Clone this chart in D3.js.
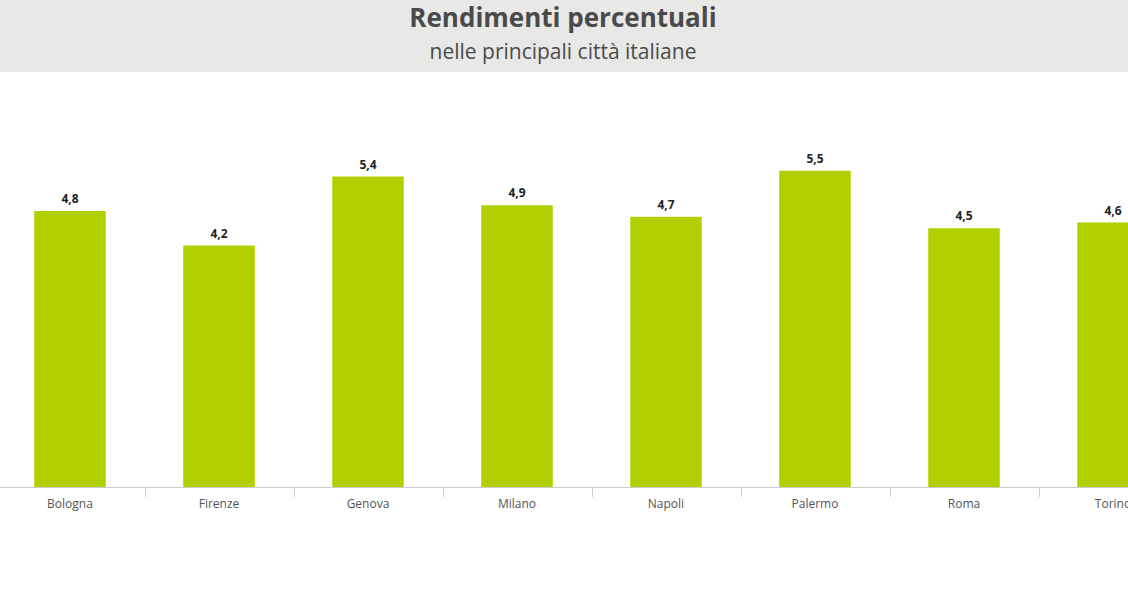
<!DOCTYPE html>
<html><head><meta charset="utf-8">
<script src="https://cdn.jsdelivr.net/npm/d3@7"></script>
<style>body{margin:0;background:#fff}svg{display:block}</style>
</head><body>
<svg id="c" width="1128" height="591"></svg>
<script>
const categories = ["Bologna","Firenze","Genova","Milano","Napoli","Palermo","Roma","Torino"];
const values = [4.8,4.2,5.4,4.9,4.7,5.5,4.5,4.6];
const title = "Rendimenti percentuali";
const subtitle = "nelle principali città italiane";

const svg = d3.select("#c");
const font = "'Open Sans', 'Noto Sans', sans-serif";
svg.append("rect").attr("x",0).attr("y",0).attr("width",1128).attr("height",72).attr("fill","#e8e8e7");
svg.append("text").attr("x",563).attr("y",27).attr("text-anchor","middle")
  .attr("font-family",font).attr("font-size",26).attr("font-weight","bold").attr("fill","#4a4a4a").text(title);
svg.append("text").attr("x",563).attr("y",59).attr("text-anchor","middle")
  .attr("font-family",font).attr("font-size",21).attr("fill","#4a4a4a").text(subtitle);

const x = d3.scaleBand().domain(categories).range([-4.5, -4.5 + 149*8]).paddingInner(0.52).paddingOuter(0.26);
const y = d3.scaleLinear().domain([0,6]).range([487,142]);

svg.selectAll("rect.bar").data(values).join("rect").attr("class","bar")
  .attr("x",(d,i)=>x(categories[i])).attr("y",d=>y(d))
  .attr("width",x.bandwidth()).attr("height",d=>y(0)-y(d)).attr("fill","#b2d000");

svg.selectAll("text.v").data(values).join("text").attr("class","v")
  .attr("x",(d,i)=>x(categories[i])+x.bandwidth()/2).attr("y",d=>y(d)-8)
  .attr("text-anchor","middle").attr("font-family",font).attr("font-size",12).attr("font-weight","bold").attr("fill","#222")
  .text(d=>String(d).replace(".",","));

svg.append("line").attr("x1",0).attr("x2",1128).attr("y1",487.5).attr("y2",487.5).attr("stroke","#ccc");
categories.forEach((c,i)=>{
  if(i>0){
    const bx = Math.round(x(c) - x.step()*x.paddingInner()/2)+0.5;
    svg.append("line").attr("x1",bx).attr("x2",bx).attr("y1",487).attr("y2",497).attr("stroke","#ccc");
  }
});
svg.selectAll("text.cat").data(categories).join("text").attr("class","cat")
  .attr("x",d=>x(d)+x.bandwidth()/2).attr("y",508).attr("text-anchor","middle")
  .attr("font-family",font).attr("font-size",12).attr("fill","#555").text(d=>d);
</script>
</body></html>
